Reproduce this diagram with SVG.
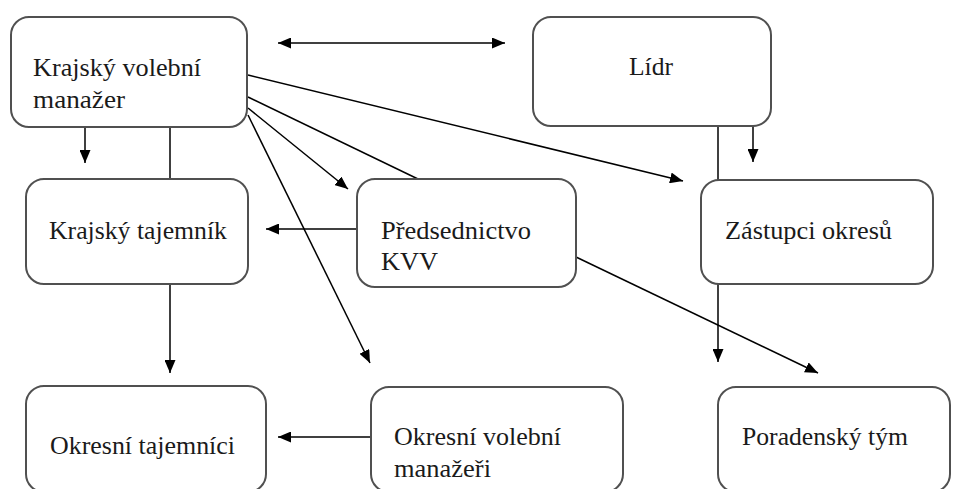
<svg xmlns="http://www.w3.org/2000/svg" width="953" height="489" viewBox="0 0 953 489">
<style>
.box{fill:#fff;stroke:#505050;stroke-width:2}
.t{font-family:"Liberation Serif","Times New Roman",serif;font-size:25px;fill:#1a1a1a}
.c{fill:none;stroke:#000;stroke-width:1.5}
.a{marker-end:url(#ah)}
</style>
<defs>
<marker id="ah" markerUnits="userSpaceOnUse" markerWidth="13" markerHeight="11" viewBox="0 0 13 11" refX="13" refY="5.5" orient="auto-start-reverse">
<path d="M0,0 L13,5.5 L0,11 z" fill="#000"/>
</marker>
</defs>
<rect width="953" height="489" fill="#fff"/>
<g id="connectors">
<line class="c" x1="278" y1="43" x2="505" y2="43" marker-start="url(#ah)" marker-end="url(#ah)"/>
<line class="c a" x1="85" y1="127" x2="85" y2="163"/>
<line class="c" x1="170" y1="127" x2="170" y2="179"/>
<line class="c a" x1="170" y1="284" x2="170" y2="373"/>
<line class="c a" x1="357" y1="229" x2="266" y2="229"/>
<line class="c a" x1="370" y1="437" x2="278" y2="437"/>
<line class="c a" x1="248" y1="75" x2="683" y2="181"/>
<line class="c" x1="248" y1="97" x2="418" y2="179"/>
<line class="c a" x1="248" y1="108" x2="348" y2="189"/>
<line class="c a" x1="248" y1="115" x2="370" y2="363"/>
<line class="c a" x1="576" y1="257" x2="818" y2="373"/>
<line class="c" x1="718" y1="126" x2="718" y2="180"/>
<line class="c a" x1="718" y1="284" x2="718" y2="362"/>
<line class="c a" x1="753" y1="126" x2="753" y2="162"/>
</g>
<g id="krajsky-volebni-manazer">
<rect class="box" x="11" y="17" width="236" height="110" rx="18"/>
<text class="t" x="33" y="76" textLength="168" lengthAdjust="spacingAndGlyphs">Krajský volební</text>
<text class="t" x="33" y="108" textLength="92" lengthAdjust="spacingAndGlyphs">manažer</text>
</g>
<g id="lidr">
<rect class="box" x="533" y="17" width="238" height="109" rx="18"/>
<text class="t" x="629" y="75" textLength="44" lengthAdjust="spacingAndGlyphs">Lídr</text>
</g>
<g id="krajsky-tajemnik">
<rect class="box" x="26" y="179" width="222" height="105" rx="18"/>
<text class="t" x="49" y="239" textLength="178" lengthAdjust="spacingAndGlyphs">Krajský tajemník</text>
</g>
<g id="predsednictvo-kvv">
<rect class="box" x="357" y="179" width="219" height="108" rx="18"/>
<text class="t" x="381" y="239" textLength="150" lengthAdjust="spacingAndGlyphs">Předsednictvo</text>
<text class="t" x="381" y="270" textLength="57" lengthAdjust="spacingAndGlyphs">KVV</text>
</g>
<g id="zastupci-okresu">
<rect class="box" x="701" y="180" width="232" height="104" rx="18"/>
<text class="t" x="725" y="239" textLength="167" lengthAdjust="spacingAndGlyphs">Zástupci okresů</text>
</g>
<g id="okresni-tajemnici">
<rect class="box" x="26" y="386" width="240" height="106" rx="18"/>
<text class="t" x="50" y="454" textLength="185" lengthAdjust="spacingAndGlyphs">Okresní tajemníci</text>
</g>
<g id="okresni-volebni-manazeri">
<rect class="box" x="371" y="387" width="252" height="105" rx="18"/>
<text class="t" x="394" y="445" textLength="167" lengthAdjust="spacingAndGlyphs">Okresní volební</text>
<text class="t" x="394" y="477" textLength="97" lengthAdjust="spacingAndGlyphs">manažeři</text>
</g>
<g id="poradensky-tym">
<rect class="box" x="718" y="387" width="232" height="105" rx="18"/>
<text class="t" x="742" y="445" textLength="166" lengthAdjust="spacingAndGlyphs">Poradenský tým</text>
</g>
</svg>
